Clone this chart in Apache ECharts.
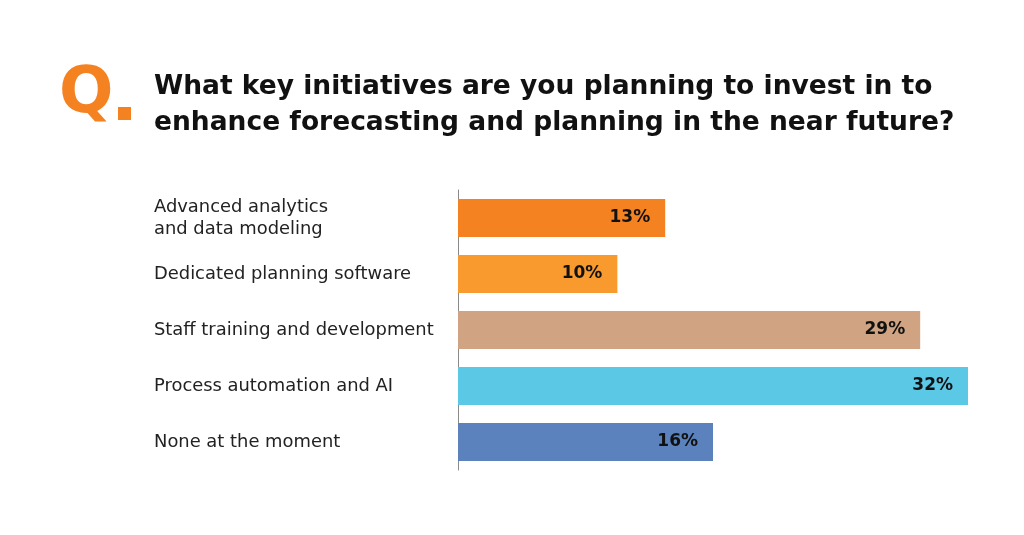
<!DOCTYPE html>
<html><head><meta charset="utf-8">
<script src="https://cdn.jsdelivr.net/npm/echarts@6/dist/echarts.min.js"></script>
<style>html,body{margin:0;padding:0;background:#fff}#c{width:1024px;height:535px}</style>
</head><body><div id="c"></div>
<script>
const categories = ["Advanced analytics\nand data modeling","Dedicated planning software","Staff training and development","Process automation and AI","None at the moment"];
const values = [13,10,29,32,16];
const colors = ["#F58220","#F99A2F","#D0A482","#5BC8E6","#5B82BD"];
const titleLines = ["What key initiatives are you planning to invest in to","enhance forecasting and planning in the near future?"];

const chart = echarts.init(document.getElementById('c'));
chart.setOption({
  backgroundColor:'#fff',
  animation:false,
  graphic:[
    {type:'text',left:59,top:63,style:{text:'Q',fill:'#F58220',font:'bold 64px "DejaVu Sans", sans-serif'}},
    {type:'rect',shape:{x:118,y:107,width:13,height:13},style:{fill:'#F58220'}},
    {type:'text',left:154,top:69,style:{text:titleLines.join('\n'),fill:'#111',font:'bold 26.5px "DejaVu Sans", sans-serif',lineHeight:36}}
  ],
  grid:{left:458,right:56,top:190,height:280,containLabel:false},
  xAxis:{type:'value',min:0,max:32,show:false},
  yAxis:{type:'category',data:categories,inverse:true,
    axisLine:{show:true,lineStyle:{color:'#8a8a8a',width:1}},
    axisTick:{show:false},
    axisLabel:{align:'left',margin:304,color:'#222',fontSize:17.9,lineHeight:22,fontFamily:'"DejaVu Sans", sans-serif'}
  },
  series:[{type:'bar',barWidth:38,
    data:values.map((v,i)=>({value:v,itemStyle:{color:colors[i]}})),
    label:{show:true,position:'insideRight',distance:15,formatter:'{c}%',color:'#111',fontWeight:'bold',fontSize:17,fontFamily:'"DejaVu Sans", sans-serif'}
  }]
});
</script></body></html>
